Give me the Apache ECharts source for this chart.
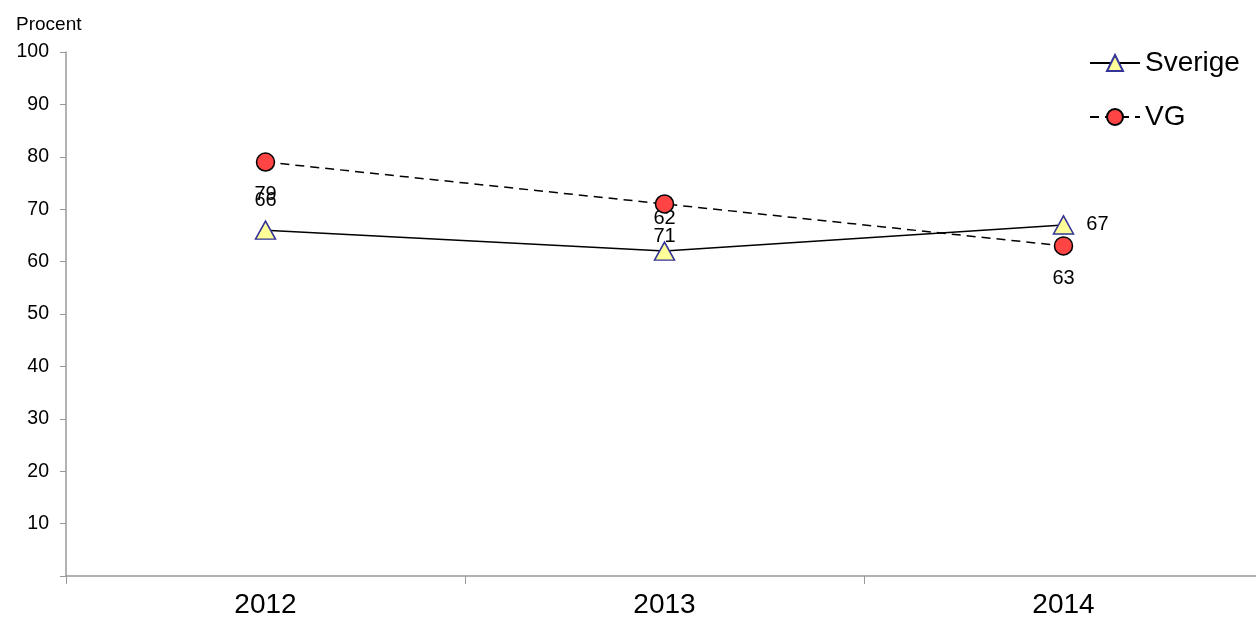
<!DOCTYPE html>
<html><head><meta charset="utf-8">
<script src="https://cdn.jsdelivr.net/npm/echarts@6/dist/echarts.min.js"></script>
<style>html,body{margin:0;padding:0;background:#fff;overflow:hidden}#c{width:1263px;height:621px}</style>
</head><body><div id="c"></div>
<script>
const categories = ['2012', '2013', '2014'];
const sverige = [66, 62, 67];
const vg = [79, 71, 63];
const yTicks = [0, 10, 20, 30, 40, 50, 60, 70, 80, 90, 100];

const FONT = '"Liberation Sans", Arial, sans-serif';
const chart = echarts.init(document.getElementById('c'));

const sverigeLabelPos = [
  { position: 'top', distance: 10 },
  { position: 'top', distance: 13 },
  { position: 'right', distance: 12 }
];
const sverigeData = sverige.map((v, i) => ({ value: v, label: sverigeLabelPos[i] }));
const vgData = vg.map(v => ({ value: v, label: { position: 'bottom', distance: 13 } }));

chart.setOption({
  animation: false,
  textStyle: { fontFamily: FONT },
  title: { text: 'Procent', left: 11, top: 10, textStyle: { fontSize: 19, fontWeight: 'normal', color: '#000', fontFamily: FONT } },
  legend: {
    orient: 'vertical', left: 1084, top: 44, itemGap: 26, itemWidth: 50, itemHeight: 20,
    textStyle: { fontSize: 28, color: '#000', fontFamily: FONT },
    data: ['Sverige', 'VG']
  },
  grid: { left: 66, top: 52, bottom: 45, right: 0 },
  xAxis: {
    type: 'category', data: categories, boundaryGap: true,
    axisLine: { lineStyle: { color: '#999', width: 1.5 } },
    axisTick: { show: true, length: 8, lineStyle: { color: '#999' } },
    axisLabel: { fontSize: 28, color: '#000', margin: 15, fontFamily: FONT }
  },
  yAxis: {
    type: 'value', min: yTicks[0], max: yTicks[yTicks.length - 1], interval: 10,
    splitLine: { show: false },
    axisLine: { show: true, lineStyle: { color: '#999', width: 1.5 } },
    axisTick: { show: true, length: 6, lineStyle: { color: '#999' } },
    axisLabel: { fontSize: 19.5, color: '#000', margin: 17, fontFamily: FONT, formatter: v => v === 0 ? '' : v }
  },
  series: [
    {
      name: 'Sverige', type: 'line', data: sverigeData,
      symbol: 'triangle', symbolSize: [20, 18],
      itemStyle: { color: '#ffff99', borderColor: '#333399', borderWidth: 1.5 },
      lineStyle: { color: '#000', width: 1.5, type: 'solid' },
      label: { show: true, fontSize: 20, color: '#000', fontFamily: FONT },
      z: 2
    },
    {
      name: 'VG', type: 'line', data: vgData,
      symbol: 'circle', symbolSize: 18,
      itemStyle: { color: '#ff4444', borderColor: '#000', borderWidth: 1.5 },
      lineStyle: { color: '#000', width: 1.5, type: [9, 6] },
      label: { show: true, fontSize: 20, color: '#000', fontFamily: FONT },
      z: 3
    }
  ]
});
</script>
</body></html>
